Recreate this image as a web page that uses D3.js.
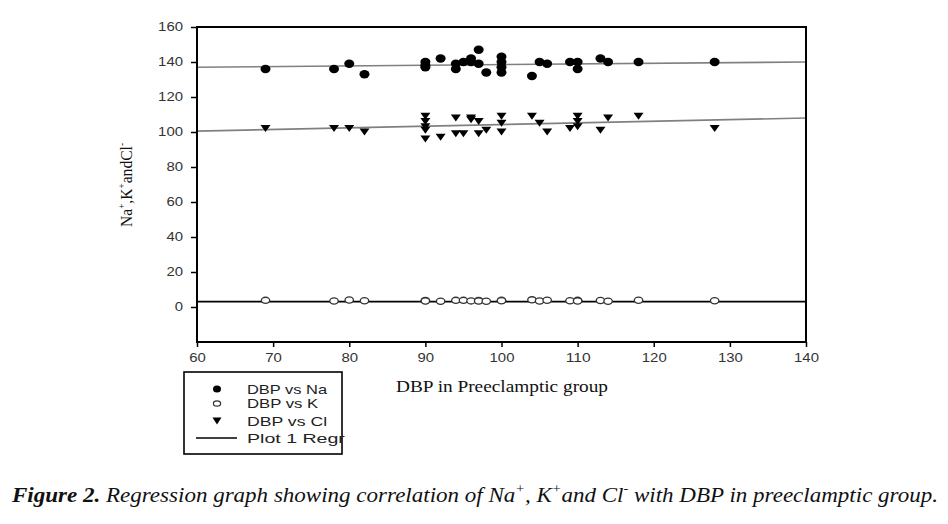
<!DOCTYPE html>
<html><head><meta charset="utf-8">
<script src="https://cdn.jsdelivr.net/npm/d3@7"></script>
<style>body{margin:0;background:#fff}svg{display:block}</style>
</head><body><svg id="c" width="948" height="524"></svg>
<script>
// ---- data ----
const naX = [69,78,80,82,90,90,90,92,94,94,95,96,96,97,97,98,100,100,100,100,104,105,106,109,110,110,113,114,118,128];
const naY = [136,136,139,133,140,138,137,142,139,136,140,142,140,147,139,134,143,140,137,134,132,140,139,140,140,136,142,140,140,140];
const kX = [69,78,80,82,90,90,92,94,95,96,97,97,98,100,100,104,105,106,109,110,110,113,114,118,128];
const kY = [3.8,3.4,4.0,3.6,3.7,3.4,3.3,3.8,3.8,3.5,3.7,3.4,3.3,3.8,3.6,4.1,3.4,3.9,3.6,3.8,3.4,3.7,3.3,3.9,3.6];
const clX = [69,78,80,82,90,90,90,90,90,92,94,94,95,96,96,97,97,98,100,100,100,104,105,106,109,110,110,110,113,114,118,128];
const clY = [102,102,102,100,109,106,103,101,96,97,108,99,99,108,107,106,99,101,109,105,100,109,105,100,102,109,106,103,101,108,109,102];
// regression lines (value at x=60 and x=140)
const regrX = [60,140];
const naRegr = [137,140];
const kRegr = [3.1,3.1];
const clRegr = [100.5,108];
const xTicks = [60,70,80,90,100,110,120,130,140];
const yTicks = [0,20,40,60,80,100,120,140,160];
const legendLabels = ["DBP vs Na","DBP vs K","DBP vs Cl","Plot 1 Regr"];

const svg = d3.select("#c");
const x = d3.scaleLinear().domain([60,140]).range([197,806]);
const y = d3.scaleLinear().domain([-20,160]).range([342,27]);

// regression lines
const line = d3.line().x((d,i)=>x(regrX[i])).y(d=>y(d));
svg.append("path").attr("d",line(naRegr)).attr("fill","none").attr("stroke","#808080").attr("stroke-width",1.6);
svg.append("path").attr("d",line(clRegr)).attr("fill","none").attr("stroke","#808080").attr("stroke-width",1.6);
svg.append("path").attr("d",line(kRegr)).attr("fill","none").attr("stroke","#000").attr("stroke-width",1.6);

// markers
const tri = (w,h)=>`M${-w/2},${-h/2}L${w/2},${-h/2}L0,${h/2}Z`;
svg.append("g").selectAll("ellipse").data(naX).join("ellipse")
  .attr("cx",d=>x(d)).attr("cy",(d,i)=>y(naY[i])).attr("rx",5).attr("ry",4.2).attr("fill","#000");
svg.append("g").selectAll("ellipse").data(kX).join("ellipse")
  .attr("cx",d=>x(d)).attr("cy",(d,i)=>y(kY[i])).attr("rx",4.2).attr("ry",3.1)
  .attr("fill","#fff").attr("stroke","#333").attr("stroke-width",1.3);
svg.append("g").selectAll("path").data(clX).join("path")
  .attr("transform",(d,i)=>`translate(${x(d)},${y(clY[i])})`).attr("d",tri(10,7)).attr("fill","#000");

// axes
const fixLabels = (g)=>{
  g.selectAll(".tick text").attr("font-family","Arial, 'Liberation Sans', sans-serif").attr("font-size",12)
   .attr("fill","#333").attr("textLength",function(){return this.textContent.length*8.3;})
   .attr("lengthAdjust","spacingAndGlyphs");
  g.select(".domain").remove();
  g.selectAll(".tick line").attr("stroke","#000").attr("stroke-width",1.5);
};
svg.append("g").attr("transform","translate(197,0)")
  .call(d3.axisLeft(y).tickValues(yTicks).tickSize(6).tickPadding(8)).call(fixLabels);
svg.append("g").attr("transform","translate(0,342)")
  .call(d3.axisBottom(x).tickValues(xTicks).tickSize(5).tickPadding(6)).call(fixLabels);

// frame
svg.append("rect").attr("x",197).attr("y",27).attr("width",806-197).attr("height",342-27)
  .attr("fill","none").attr("stroke","#000").attr("stroke-width",2);

// axis titles
const xt = svg.append("text").attr("x",502).attr("y",392).attr("text-anchor","middle")
  .attr("font-family","'Liberation Serif', 'Times New Roman', serif").attr("font-size",17)
  .attr("textLength",212).attr("lengthAdjust","spacingAndGlyphs").attr("fill","#111")
  .text("DBP in Preeclamptic group");

const yt = svg.append("text").attr("transform","translate(132,185) rotate(-90)")
  .attr("text-anchor","middle").attr("font-family","'Liberation Serif', 'Times New Roman', serif")
  .attr("font-size",17).attr("fill","#111").attr("textLength",84).attr("lengthAdjust","spacingAndGlyphs");
yt.append("tspan").text("Na");
yt.append("tspan").attr("dy",-7).attr("font-size",10).text("+");
yt.append("tspan").attr("dy",7).text(",K");
yt.append("tspan").attr("dy",-7).attr("font-size",10).text("+");
yt.append("tspan").attr("dy",7).text("andCl");
yt.append("tspan").attr("dy",-7).attr("font-size",10).text("-");

// legend
svg.append("rect").attr("x",184).attr("y",372).attr("width",158).attr("height",82)
  .attr("fill","#fff").attr("stroke","#000").attr("stroke-width",1.6);
const ly = [389,403.5,421,438];
svg.append("ellipse").attr("cx",217).attr("cy",ly[0]).attr("rx",4).attr("ry",3.5).attr("fill","#000");
svg.append("ellipse").attr("cx",217).attr("cy",ly[1]).attr("rx",3.6).attr("ry",2.6).attr("fill","#fff").attr("stroke","#333").attr("stroke-width",1.2);
svg.append("path").attr("transform",`translate(217,${ly[2]})`).attr("d",tri(9,7)).attr("fill","#000");
svg.append("line").attr("x1",196).attr("x2",237).attr("y1",ly[3]).attr("y2",ly[3]).attr("stroke","#000").attr("stroke-width",1.5);
svg.append("g").selectAll("text").data(legendLabels).join("text")
  .attr("x",247).attr("y",(d,i)=>ly[i]+4.5)
  .attr("font-family","Arial, 'Liberation Sans', sans-serif").attr("font-size",13).attr("fill","#222")
  .attr("textLength",d=>d.length*8.9).attr("lengthAdjust","spacingAndGlyphs")
  .text(d=>d);

// caption
const cap = svg.append("text").attr("x",12).attr("y",502)
  .attr("font-family","'Liberation Serif', 'Times New Roman', serif").attr("font-size",21)
  .attr("font-style","italic").attr("fill","#111").attr("textLength",926).attr("lengthAdjust","spacingAndGlyphs");
cap.append("tspan").attr("font-weight","bold").text("Figure 2. ");
cap.append("tspan").text("Regression graph showing correlation of Na");
cap.append("tspan").attr("dy",-9).attr("font-size",13).text("+");
cap.append("tspan").attr("dy",9).text(", K");
cap.append("tspan").attr("dy",-9).attr("font-size",13).text("+");
cap.append("tspan").attr("dy",9).text("and Cl");
cap.append("tspan").attr("dy",-9).attr("font-size",13).text("-");
cap.append("tspan").attr("dy",9).text(" with DBP in preeclamptic group.");
</script></body></html>
